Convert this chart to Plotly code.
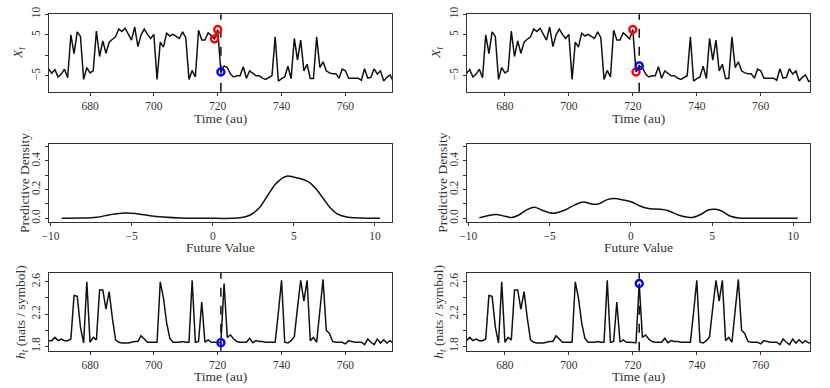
import plotly.graph_objects as go

# ---------------- data ----------------
t_vals = list(range(667, 777))
x_series = [-3.3, -4.4, -3.5, -5.3, -4.6, -3.4, -5.5, 5.0, 0.4, 5.7,
            4.6, -5.9, -3.0, -4.3, -3.8, 5.9, -0.3, 3.5, 0.5, 3.2,
            3.9, 4.5, 6.4, 5.8, 6.6, 5.1, 3.7, 6.9, 2.1, 5.0,
            6.4, 5.1, 4.1, 5.1, -5.9, 3.2, 2.0, 5.4, 4.7, 5.1,
            4.7, 4.1, 5.7, 4.3, -5.9, -3.7, -5.3, 6.1, 3.7, 3.7,
            5.5, 4.7, 4.0, 6.3, -4.1, -2.6, -3.0, -4.6, -5.3, -5.0,
            -5.0, -2.8, -5.6, -3.8, -4.5, -5.0, -5.0, -5.6, -5.9, -5.4,
            -5.0, 4.5, -6.3, -5.7, -5.3, -2.7, -5.7, 4.1, -1.2, 3.7,
            -3.8, -2.2, -5.7, -5.7, 4.5, -3.0, -1.6, -3.8, -4.3, -4.5,
            -4.5, -5.6, -3.4, -3.8, -5.6, -5.6, -5.6, -5.6, -6.1, -3.3,
            -5.6, -5.4, -3.3, -4.6, -3.8, -6.3, -5.4, -4.8, -6.4, -6.0]
h_series = [1.87, 1.87, 1.91, 1.87, 1.89, 1.87, 1.87, 1.89, 2.43, 2.42,
            2.04, 1.84, 2.60, 1.85, 1.91, 1.88, 2.50, 2.50, 2.26, 2.48,
            2.15, 1.88, 1.85, 1.84, 1.84, 1.84, 1.85, 1.86, 1.86, 1.93,
            1.89, 1.85, 1.85, 1.85, 1.85, 2.60, 2.40, 2.09, 1.90, 1.85,
            1.85, 1.85, 1.86, 1.85, 1.85, 2.62, 1.85, 1.86, 2.35, 1.85,
            1.88, 1.85, 1.85, 1.85, 1.845, 2.58, 1.91, 1.94, 1.89, 1.86,
            1.85, 1.85, 1.85, 1.90, 1.845, 1.87, 1.86, 1.86, 1.85, 1.85,
            1.85, 1.85, 2.22, 2.62, 1.85, 1.84, 1.87, 1.92, 2.28, 2.62,
            2.36, 2.62, 1.87, 1.91, 1.85, 2.25, 2.63, 2.00, 1.96, 1.86,
            1.85, 1.85, 1.85, 1.83, 1.87, 1.86, 1.85, 1.85, 1.85, 1.82,
            1.89, 1.85, 1.82, 1.89, 1.84, 1.88, 1.84, 1.87, 1.84, 1.85]

# left column: now = 721 ; right column: now = 722
past_t_left = [719, 720]
past_x_left = [4.0, 6.3]
pred_t_left = [721]
pred_x_left = [-4.1]
pred_h_left = [1.845]
now_left = 721

past_t_right = [720, 721]
past_x_right = [6.3, -4.1]
pred_t_right = [722]
pred_x_right = [-2.6]
pred_h_right = [2.58]
now_right = 722

dens_x_left = [-9.32, -8.19, -7.16, -6.34, -5.42, -4.70, -3.87, -3.05, -2.02, -0.38,
               1.26, 1.88, 2.39, 2.91, 3.42, 3.94, 4.55, 4.96, 5.58, 5.99,
               6.40, 6.81, 7.23, 7.64, 8.25, 9.07, 10.31]
dens_y_left = [0.0, 0.001, 0.007, 0.025, 0.037, 0.032, 0.018, 0.009, 0.002, 0.0,
               0.0, 0.007, 0.028, 0.078, 0.166, 0.247, 0.293, 0.288, 0.27, 0.247,
               0.20, 0.138, 0.074, 0.032, 0.009, 0.002, 0.0]

dens_x_right = [-9.32, -8.87, -8.30, -7.74, -7.33, -6.92, -6.41, -5.94, -5.49, -4.77,
                -4.05, -3.44, -2.92, -2.41, -2.0, -1.49, -1.02, -0.46, 0.05, 0.56,
                1.18, 1.79, 2.31, 2.92, 3.54, 3.85, 4.36, 4.77, 5.18, 5.59,
                6.10, 6.62, 7.23, 8.5, 10.27]
dens_y_right = [0.004, 0.016, 0.026, 0.014, 0.005, 0.021, 0.058, 0.077, 0.058, 0.035,
                0.058, 0.093, 0.114, 0.10, 0.10, 0.128, 0.137, 0.128, 0.114, 0.086,
                0.067, 0.063, 0.053, 0.023, 0.007, 0.007, 0.03, 0.058, 0.063, 0.051,
                0.016, 0.002, 0.0, 0.0, 0.0]

time_ticks = [680, 700, 720, 740, 760]
x_ticks = [-5, 5, 10]
x_ticktext = ["\u22125", "5", "10"]
x_minor = [0]
dens_xticks = [-10, -5, 0, 5, 10]
dens_xticktext = ["\u221210", "\u22125", "0", "5", "10"]
dens_yticks = [0.0, 0.2, 0.4]
dens_yticktext = ["0.0", "0.2", "0.4"]
dens_yminor = [0.1, 0.3, 0.5]
h_ticks = [1.8, 2.2, 2.6]
h_ticktext = ["1.8", "2.2", "2.6"]
h_minor = [2.0, 2.4]

# ---------------- layout geometry ----------------
W, H = 830, 388
FONT = "Liberation Serif"
AX = "#333333"

def px_x(p):
    return p / W

def px_y(p):
    return 1 - p / H

col_dom = [[px_x(49), px_x(392)], [px_x(466.7), px_x(810.3)]]
row_dom = [[px_y(91.7), px_y(14.3)], [px_y(221.7), px_y(144.3)], [px_y(350.7), px_y(273)]]

fig = go.Figure()
line_style = dict(color="#111111", width=1.5)

def axname(i):
    return "" if i == 1 else str(i)

def circ(color):
    return dict(symbol="circle-open", size=7, color=color, line=dict(width=2.4, color=color))

for col in range(2):
    for row in range(3):
        idx = row * 2 + col + 1
        xa, ya = "x" + axname(idx), "y" + axname(idx)
        if row == 0:
            fig.add_trace(go.Scatter(x=t_vals, y=x_series, mode="lines", line=line_style,
                                     xaxis=xa, yaxis=ya, showlegend=False))
            pt, pv = (past_t_left, past_x_left) if col == 0 else (past_t_right, past_x_right)
            fig.add_trace(go.Scatter(x=pt, y=pv, mode="markers", marker=circ("#ff0000"),
                                     xaxis=xa, yaxis=ya, showlegend=False))
            qt, qx = (pred_t_left, pred_x_left) if col == 0 else (pred_t_right, pred_x_right)
            fig.add_trace(go.Scatter(x=qt, y=qx, mode="markers", marker=circ("#0000ff"),
                                     xaxis=xa, yaxis=ya, showlegend=False))
        elif row == 1:
            dx, dy = (dens_x_left, dens_y_left) if col == 0 else (dens_x_right, dens_y_right)
            fig.add_trace(go.Scatter(x=dx, y=dy, mode="lines",
                                     line=dict(line_style, shape="spline", smoothing=1.0),
                                     xaxis=xa, yaxis=ya, showlegend=False))
        else:
            fig.add_trace(go.Scatter(x=t_vals, y=h_series, mode="lines", line=line_style,
                                     xaxis=xa, yaxis=ya, showlegend=False))
            qt, qh = (pred_t_left, pred_h_left) if col == 0 else (pred_t_right, pred_h_right)
            fig.add_trace(go.Scatter(x=qt, y=qh, mode="markers", marker=circ("#0000ff"),
                                     xaxis=xa, yaxis=ya, showlegend=False))
        if row in (0, 2):
            now = now_left if col == 0 else now_right
            fig.add_shape(type="line", xref=xa, yref=ya + " domain", x0=now, x1=now, y0=0, y1=1,
                          line=dict(color="#111111", width=1.5, dash="dash"), layer="below")

base_axis = dict(showline=True, mirror=True, linecolor=AX, linewidth=1, ticks="outside",
                 ticklen=3, tickcolor=AX, showgrid=False, zeroline=False, automargin=False,
                 tickfont=dict(family=FONT, size=11.5, color="#333333"))

layout = dict(width=W, height=H, margin=dict(l=0, r=0, t=0, b=0, autoexpand=False),
              template="none",
              plot_bgcolor="white", paper_bgcolor="white", showlegend=False,
              font=dict(family=FONT, color="#333333"))

def minor(vals):
    return dict(tickvals=vals, ticks="outside", ticklen=3, tickcolor=AX, showgrid=False)

for col in range(2):
    for row in range(3):
        idx = row * 2 + col + 1
        xk, yk = "xaxis" + axname(idx), "yaxis" + axname(idx)
        ya_ref = "y" + axname(idx)
        xa_ref = "x" + axname(idx)
        xd = dict(base_axis, domain=col_dom[col], anchor=ya_ref)
        yd = dict(base_axis, domain=row_dom[row], anchor=xa_ref, tickangle=-90)
        if row == 1:
            xd.update(range=[-10.1, 11.05], tickvals=dens_xticks, ticktext=dens_xticktext)
            yd.update(range=[-0.024, 0.516], tickvals=dens_yticks, ticktext=dens_yticktext,
                      minor=minor(dens_yminor))
        else:
            xr = [667.15, 774.6] if col == 0 else [668.05, 775.5]
            xd.update(range=xr, tickvals=time_ticks)
            if row == 0:
                yd.update(range=[-8.9, 10], tickvals=x_ticks, ticktext=x_ticktext,
                          minor=minor(x_minor))
            else:
                yd.update(range=[1.745, 2.71], tickvals=h_ticks, ticktext=h_ticktext,
                          minor=minor(h_minor))
        layout[xk] = xd
        layout[yk] = yd

fig.update_layout(**layout)

title_font = dict(family=FONT, size=13.5, color="#333333")
ann = []
for col in range(2):
    cx = (col_dom[col][0] + col_dom[col][1]) / 2
    off = 0 if col == 0 else 417.7
    ann.append(dict(text="Time (au)", x=cx, y=px_y(118), xref="paper", yref="paper",
                    showarrow=False, font=title_font, xanchor="center", yanchor="middle"))
    ann.append(dict(text="Future Value", x=cx, y=px_y(248), xref="paper", yref="paper",
                    showarrow=False, font=title_font, xanchor="center", yanchor="middle"))
    ann.append(dict(text="Time (au)", x=cx, y=px_y(376), xref="paper", yref="paper",
                    showarrow=False, font=title_font, xanchor="center", yanchor="middle"))
    ann.append(dict(text="<i>X</i><sub><i>t</i></sub>", x=px_x(19 + off), y=px_y(53), xref="paper",
                    yref="paper", showarrow=False, font=title_font, textangle=-90,
                    xanchor="center", yanchor="middle"))
    ann.append(dict(text="Predictive Density", x=px_x(24 + off), y=px_y(183), xref="paper",
                    yref="paper", showarrow=False, font=title_font, textangle=-90,
                    xanchor="center", yanchor="middle"))
    ann.append(dict(text="<i>h</i><sub><i>t</i></sub> (nats / symbol)", x=px_x(21 + off), y=px_y(312),
                    xref="paper", yref="paper", showarrow=False, font=title_font, textangle=-90,
                    xanchor="center", yanchor="middle"))
fig.update_layout(annotations=ann)

fig.write_html("out.html", config={"displayModeBar": False},
               post_script="document.body.style.margin='0';document.body.style.padding='0';")
